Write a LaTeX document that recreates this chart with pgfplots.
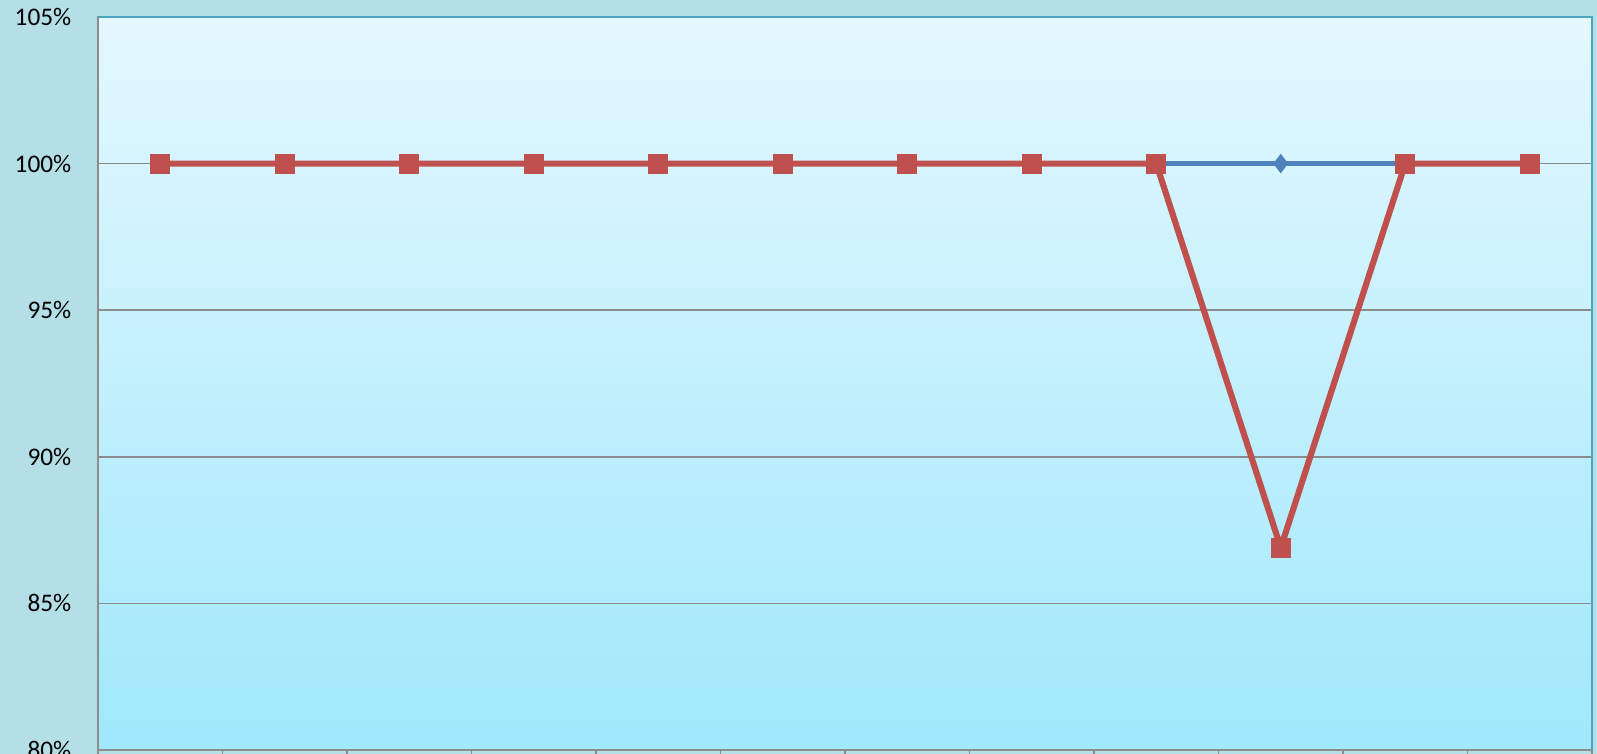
\documentclass[border=0pt]{standalone}
\usepackage{fontspec}
\setmainfont{Carlito}
\usepackage{pgfplots}
\pgfplotsset{compat=1.18}
\definecolor{exred}{HTML}{C0504D}
\definecolor{exblue}{HTML}{4F81BD}
\definecolor{gridgray}{HTML}{8C8C8C}
\definecolor{texture}{HTML}{B4DFE7}
\definecolor{bgtop}{HTML}{E4F8FE}
\definecolor{bgbot}{HTML}{A0E8FC}
\definecolor{frameteal}{HTML}{4BA6BE}

\begin{document}
\begin{tikzpicture}
\useasboundingbox (-9.8mm,-0.4mm) rectangle (149.9mm,75.0mm);
\fill[texture] (-9.8mm,-0.4mm) rectangle (149.9mm,75.0mm);
\begin{axis}[
  name=ax,
  scale only axis, width=149.4mm, height=73.3mm,
  xmin=0.5, xmax=12.5, ymin=80, ymax=105,
  xtick={0.5,1.5,...,12.5}, xticklabels={},
  xtick pos=bottom,
  xtick style={draw=gridgray, line width=0.5pt, yshift=-1.5mm},
  ytick={80,85,...,105},
  ytick style={draw=none},
  yticklabel={\pgfmathprintnumber{\tick}\%},
  /pgf/number format/assume math mode=true,
  yticklabel style={font=\fontsize{7.2}{8}\selectfont, anchor=east,
                    inner sep=0pt, xshift=-2.6mm},
  ymajorgrids,
  grid style={draw=gridgray, line width=0.5pt},
  axis line style={draw=gridgray, line width=0.6pt},
  axis background/.style={shade, top color=bgtop, bottom color=bgbot},
]
  % blue series (drawn first, mostly hidden under red)
  \addplot[exblue, line width=1.5pt, mark=diamond*, mark size=0.92mm,
           mark options={fill=exblue, draw=exblue, line width=0.2pt}]
    coordinates {
      (1,100) (2,100) (3,100) (4,100) (5,100) (6,100)
      (7,100) (8,100) (9,100) (10,100) (11,100) (12,100)
    };
  % red series
  \addplot[exred, line width=1.75pt, mark=square*, mark size=0.95mm,
           mark options={fill=exred, draw=exred, line width=0.3pt}]
    coordinates {
      (1,100) (2,100) (3,100) (4,100) (5,100) (6,100)
      (7,100) (8,100) (9,100) (10,86.9) (11,100) (12,100)
    };
\end{axis}
\draw[frameteal, line width=0.6pt] (ax.north west) -- (ax.north east) -- (ax.south east);
\end{tikzpicture}
\end{document}
